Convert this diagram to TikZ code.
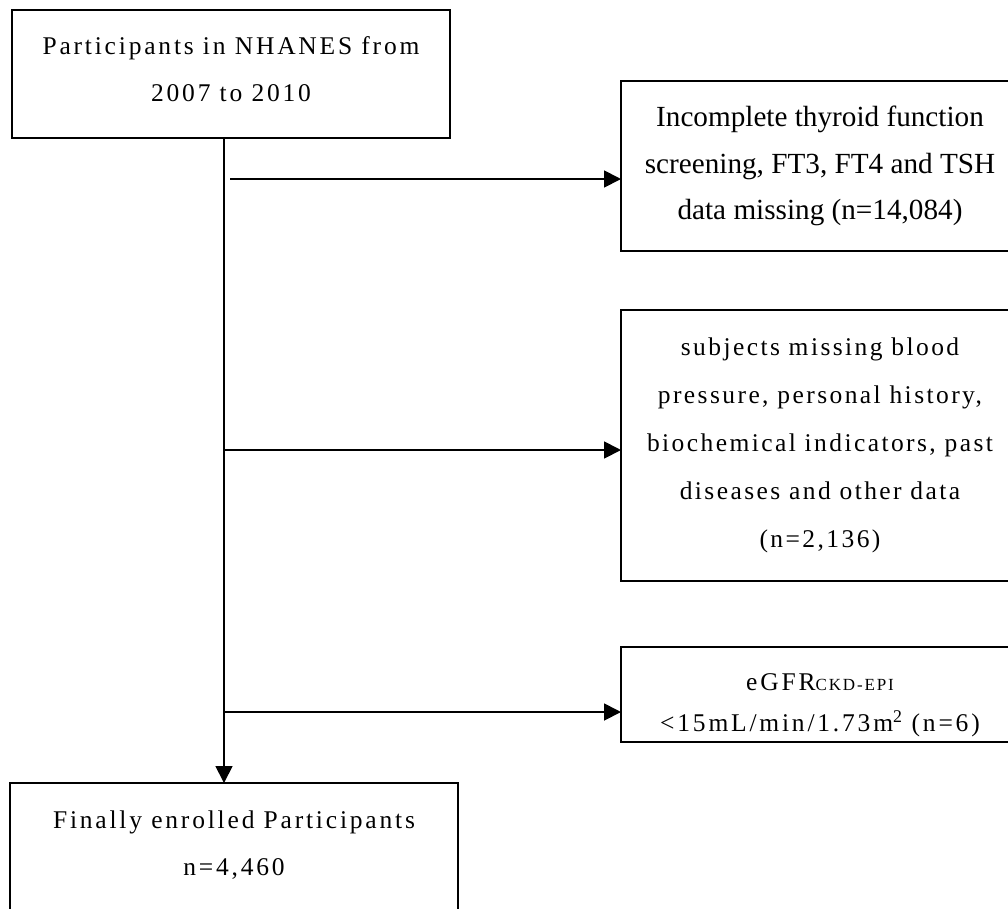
\documentclass[tikz,border=0pt]{standalone}
\usepackage{fontspec}
\setmainfont{Liberation Serif}
\newfontfamily\spacedfont[LetterSpace=11]{Liberation Serif}
\newfontfamily\narrowspacedfont[LetterSpace=9.5]{Liberation Serif}
\usetikzlibrary{arrows.meta,positioning}

\begin{document}
\begin{tikzpicture}[x=1pt,y=-1pt]
	\tikzset{block/.style={draw,line width=2.6pt,align=center,inner sep=0pt,outer sep=0pt,minimum width=398pt,
			font=\spacedfont\fontsize{25.5}{47}\selectfont},
		arr/.style={line width=1.8pt,-{Triangle[length=17pt,width=17pt]}}}
	\useasboundingbox (0,0) rectangle (1008,908);
	\clip (0,0) rectangle (1008,908);
	\node [block,minimum width=438pt,minimum height=128pt,text depth=9pt] (nhanes) at (231,74) {Participants in NHANES from\\2007 to 2010};
	\node [block,font=\fontsize{29.2}{46.5}\selectfont,minimum height=170pt] (thyroid) at (820,166)
		{Incomplete thyroid function\\screening, FT3, FT4 and TSH\\data missing (n=14,084)};
	\node [block,font=\narrowspacedfont\fontsize{25.5}{48}\selectfont,minimum height=271pt,below=59pt of thyroid] (missing)
		{subjects missing blood\\pressure, personal history,\\biochemical indicators, past\\diseases and other data\\(n=2,136)};
	\node [block,font=\spacedfont\fontsize{25.5}{41}\selectfont,minimum height=95pt,text height=80pt,below=66pt of missing] (egfr)
		{eGFR{\fontsize{17}{17}\selectfont CKD-EPI}\\<15mL/min/1.73m\textsuperscript{2} (n=6)};
	\node [block,minimum width=448pt,minimum height=150pt,text depth=29pt,anchor=north] (enrolled) at (234,783)
		{Finally enrolled Participants\\n=4,460};
	% exclusions branch off the main line
	\coordinate (fork1) at (230,179);
	\coordinate (fork2) at (224,450);
	\coordinate (fork3) at (224,712);
	\draw[arr] ([xshift=-7pt]nhanes.south) -- ([xshift=-7pt]nhanes.south |- enrolled.north);
	\draw[arr] (fork1) -- (fork1 -| thyroid.west);
	\draw[arr] (fork2) -- (fork2 -| missing.west);
	\draw[arr] (fork3) -- (fork3 -| egfr.west);
\end{tikzpicture}
\end{document}
